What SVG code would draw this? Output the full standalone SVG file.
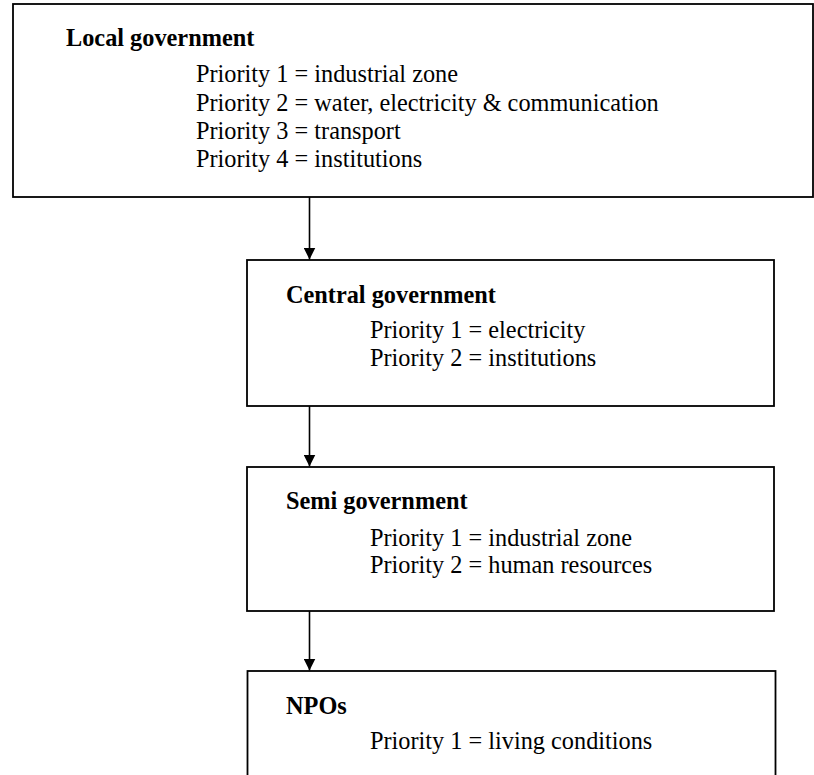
<svg xmlns="http://www.w3.org/2000/svg" width="814" height="775" viewBox="0 0 814 775">
<style>
.box{fill:#fff;stroke:#000;stroke-width:1.8}
.t{font-family:"Liberation Serif","Times New Roman",serif;font-size:24.3px;fill:#000}
.b{font-weight:bold}
.c{stroke:#000;stroke-width:1.6;fill:none}
</style>
<defs>
<marker id="ah" viewBox="0 0 12 12" refX="12" refY="6" markerWidth="12" markerHeight="12" markerUnits="userSpaceOnUse" orient="auto">
<path d="M0,0 L12,6 L0,12 z" fill="#000"/>
</marker>
</defs>
<rect width="814" height="775" fill="#fff"/>
<g id="connectors">
<line class="c" x1="309.5" y1="197" x2="309.5" y2="259.5" marker-end="url(#ah)"/>
<line class="c" x1="309.5" y1="406" x2="309.5" y2="466.5" marker-end="url(#ah)"/>
<line class="c" x1="309.5" y1="611" x2="309.5" y2="670.5" marker-end="url(#ah)"/>
</g>
<g id="local">
<rect class="box" x="13" y="4" width="800" height="193"/>
<text class="t b" x="66" y="45.7">Local government</text>
<text class="t" x="196" y="82.3">Priority 1 = industrial zone</text>
<text class="t" x="196" y="110.6">Priority 2 = water, electricity &amp; communication</text>
<text class="t" x="196" y="138.9">Priority 3 = transport</text>
<text class="t" x="196" y="167.2">Priority 4 = institutions</text>
</g>
<g id="central">
<rect class="box" x="247" y="260" width="527" height="146"/>
<text class="t b" x="286" y="302.7">Central government</text>
<text class="t" x="370" y="338.3">Priority 1 = electricity</text>
<text class="t" x="370" y="366">Priority 2 = institutions</text>
</g>
<g id="semi">
<rect class="box" x="247" y="467" width="527" height="144"/>
<text class="t b" x="286" y="509.3">Semi government</text>
<text class="t" x="370" y="545.5">Priority 1 = industrial zone</text>
<text class="t" x="370" y="573.3">Priority 2 = human resources</text>
</g>
<g id="npos">
<rect class="box" x="247.5" y="671" width="528" height="130"/>
<text class="t b" x="286" y="713.5">NPOs</text>
<text class="t" x="370" y="749.4">Priority 1 = living conditions</text>
</g>
</svg>
